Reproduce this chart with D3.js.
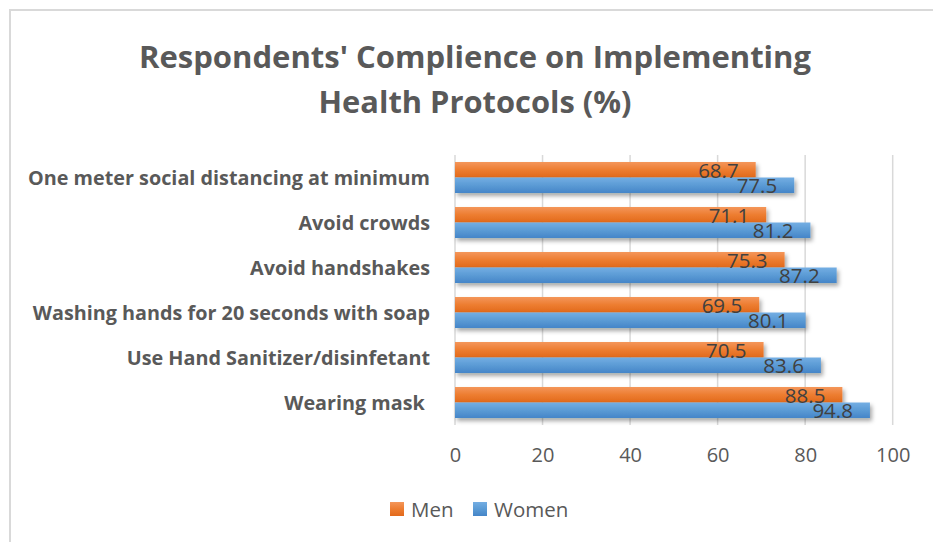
<!DOCTYPE html>
<html>
<head>
<meta charset="utf-8">
<script src="https://cdn.jsdelivr.net/npm/d3@7"></script>
<style>
  html, body { margin: 0; padding: 0; background: #fff; }
  svg { display: block; }
</style>
</head>
<body>
<svg id="chart" width="933" height="542"></svg>
<script>
// ---- data ----
const categories = [
  "One meter social distancing at minimum",
  "Avoid crowds",
  "Avoid handshakes",
  "Washing hands for 20 seconds with soap",
  "Use Hand Sanitizer/disinfetant",
  "Wearing mask "
];
const seriesNames = ["Men", "Women"];
const menValues   = [68.7, 71.1, 75.3, 69.5, 70.5, 88.5];
const womenValues = [77.5, 81.2, 87.2, 80.1, 83.6, 94.8];
const xTicks = [0, 20, 40, 60, 80, 100];
const titleLines = ["Respondents' Complience on Implementing", "Health Protocols (%)"];

const seriesValues = [menValues, womenValues];
const colors = { Men: ["#F4965A", "#ED7D31", "#E2691C"], Women: ["#74AEE3", "#5B9BD5", "#4585C8"] };

const svg = d3.select("#chart");
const W = 933, H = 542;

// defs: gradients + shadow
const defs = svg.append("defs");
seriesNames.forEach(s => {
  const g = defs.append("linearGradient").attr("id", "grad-" + s)
    .attr("x1", 0).attr("y1", 0).attr("x2", 0).attr("y2", 1);
  g.append("stop").attr("offset", "0%").attr("stop-color", colors[s][0]);
  g.append("stop").attr("offset", "50%").attr("stop-color", colors[s][1]);
  g.append("stop").attr("offset", "100%").attr("stop-color", colors[s][2]);
});
const f = defs.append("filter").attr("id", "shadow").attr("x", "-5%").attr("y", "-30%").attr("width", "115%").attr("height", "190%");
f.append("feDropShadow").attr("dx", 2).attr("dy", 3).attr("stdDeviation", 2)
  .attr("flood-color", "#000").attr("flood-opacity", 0.35);

// chart border
svg.append("rect").attr("x", 10).attr("y", 10).attr("width", W + 20).attr("height", H + 20)
  .attr("fill", "#fff").attr("stroke", "#d9d9d9").attr("stroke-width", 2);

// scales
const x = d3.scaleLinear().domain([0, 100]).range([455, 892.7]);
const y = d3.scaleBand().domain(categories).range([155, 425]).paddingInner(0.311).paddingOuter(0.1555);
const ySub = d3.scaleBand().domain(seriesNames).range([0, y.bandwidth()]);

// gridlines
svg.append("g").selectAll("line").data(xTicks).join("line")
  .attr("x1", d => x(d)).attr("x2", d => x(d))
  .attr("y1", 155).attr("y2", 425)
  .attr("stroke", "#d9d9d9").attr("stroke-width", 1.5);

// x axis tick labels
const xAxis = d3.axisBottom(x).tickValues(xTicks).tickSize(0).tickPadding(0);
const gx = svg.append("g").attr("transform", "translate(0,448)").call(xAxis);
gx.select(".domain").remove();
gx.selectAll("text").attr("font-family", "Open Sans").attr("font-size", 20)
  .attr("fill", "#595959").attr("dy", "0.71em");

// bars
const groups = svg.append("g").selectAll("g").data(categories).join("g")
  .attr("transform", d => `translate(0,${y(d)})`);

groups.selectAll("rect").data((c, i) => seriesNames.map((s, j) => ({ s, v: seriesValues[j][i] })))
  .join("rect")
  .attr("x", x(0))
  .attr("y", d => ySub(d.s))
  .attr("width", d => x(d.v) - x(0))
  .attr("height", ySub.bandwidth())
  .attr("fill", d => `url(#grad-${d.s})`)
  .attr("filter", "url(#shadow)");

groups.selectAll("text.val").data((c, i) => seriesNames.map((s, j) => ({ s, v: seriesValues[j][i] })))
  .join("text").attr("class", "val")
  .attr("x", d => x(d.v) - 17)
  .attr("y", d => ySub(d.s) + ySub.bandwidth() / 2 + 8)
  .attr("text-anchor", "end")
  .attr("font-family", "Open Sans").attr("font-size", 20.5)
  .attr("fill", "#404040")
  .text(d => d.v.toFixed(1));

// category labels
const yAxis = d3.axisLeft(y).tickSize(0).tickPadding(25);
const gy = svg.append("g").attr("transform", `translate(${x(0)},0)`).call(yAxis);
gy.select(".domain").remove();
gy.selectAll("text").attr("font-family", "Open Sans").attr("font-weight", "bold")
  .attr("font-size", 19.8).attr("fill", "#595959").attr("dy", "0.36em")
  .style("white-space", "pre");

// title
const titleWidths = [672, 313];
svg.append("g").selectAll("text").data(titleLines).join("text")
  .attr("x", 475).attr("y", (d, i) => 68 + i * 45)
  .attr("text-anchor", "middle")
  .attr("font-family", "Open Sans").attr("font-weight", "bold").attr("font-size", 30.5)
  .attr("fill", "#595959")
  .attr("textLength", (d, i) => titleWidths[i]).attr("lengthAdjust", "spacingAndGlyphs")
  .text(d => d);

// legend
const legendItems = [{ s: "Men", x: 390 }, { s: "Women", x: 473 }];
const lg = svg.append("g").selectAll("g").data(legendItems).join("g")
  .attr("transform", d => `translate(${d.x},502)`);
lg.append("rect").attr("width", 14).attr("height", 14).attr("fill", d => `url(#grad-${d.s})`);
lg.append("text").attr("x", 21).attr("y", 15)
  .attr("font-family", "Open Sans").attr("font-size", 20.5).attr("fill", "#595959")
  .text(d => d.s);
</script>
</body>
</html>
